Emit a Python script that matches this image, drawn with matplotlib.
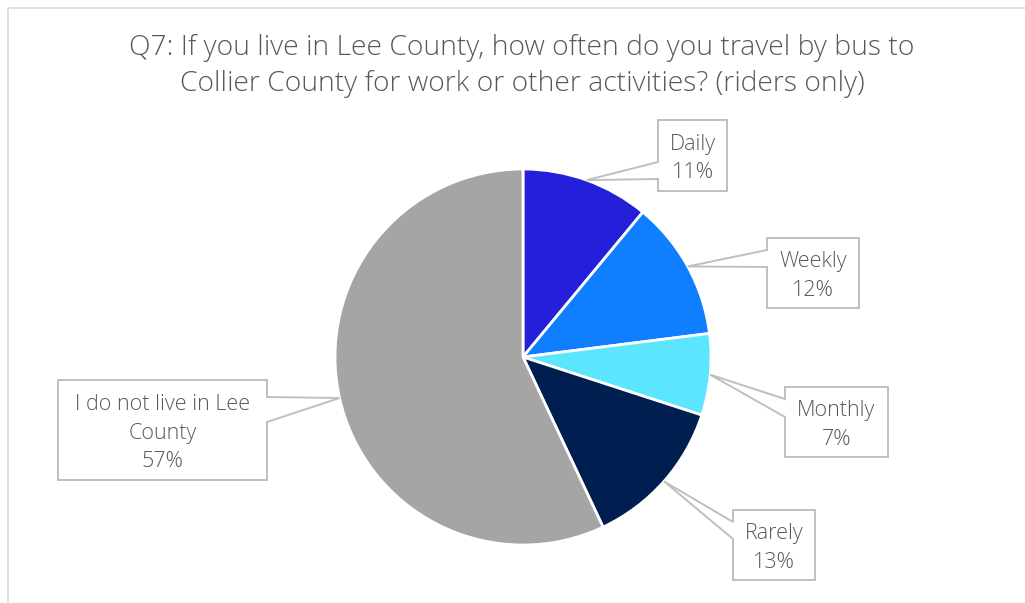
import numpy as np
import matplotlib
matplotlib.use("Agg")
import matplotlib.pyplot as plt
from matplotlib.patches import Polygon

# Survey responses (share of riders, %)
categories = ["Daily", "Weekly", "Monthly", "Rarely", "I do not live in Lee\nCounty"]
values = [11, 12, 7, 13, 57]
colors = ["#2420DA", "#0F7FFF", "#5CE5FF", "#001E50", "#A5A5A5"]
title = ("Q7: If you live in Lee County, how often do you travel by bus to\n"
         "Collier County for work or other activities? (riders only)")

W, H = 1025, 603
fig = plt.figure(figsize=(W / 100, H / 100), dpi=100)
ax = fig.add_axes([0, 0, 1, 1])

FONT = ["Open Sans", "DejaVu Sans"]
TEXT_COLOR = "#595959"
LINE_COLOR = "#BFBFBF"

cx, cy, r = 523, H - 357, 188
wedges, _ = ax.pie(values, colors=colors, startangle=90, counterclock=False,
                   center=(cx, cy), radius=r, frame=True,
                   wedgeprops=dict(edgecolor="white", linewidth=2.0))
ax.set_xlim(0, W)
ax.set_ylim(0, H)
ax.set_aspect("equal")
ax.axis("off")

# chart-area border (top and left edges visible)
ax.plot([7.5, W], [H - 7.5, H - 7.5], color="#D9D9D9", lw=1.2, solid_capstyle="butt")
ax.plot([7.5, 7.5], [0, H - 7.5], color="#D9D9D9", lw=1.2, solid_capstyle="butt")

ax.text(522, H - 66, title, ha="center", va="center", fontsize=20.3,
        color=TEXT_COLOR, family=FONT, fontweight="light", linespacing=1.35)

# callout boxes: (left, top, right, bottom) in pixels from top-left, wedge side
boxes = [
    (658, 120, 727, 191, "left", (162, 179)),
    (767, 238, 859, 308, "left", (250, 267)),
    (785, 387, 888, 457, "left", (399, 417)),
    (733, 510, 815, 580, "left", (522, 539)),
    (58, 380, 267, 480, "right", (397, 422)),
]

for w, cat, val, (l, t, rr, b, side, (y1, y2)) in zip(wedges, categories, values, boxes):
    mid = np.deg2rad((w.theta1 + w.theta2) / 2)
    tip = (cx + r * np.cos(mid), cy + r * np.sin(mid))
    L, R, T, B = l, rr, H - t, H - b
    Y1, Y2 = H - y1, H - y2
    if side == "left":
        pts = [(L, T), (R, T), (R, B), (L, B), (L, Y2), tip, (L, Y1)]
    else:
        pts = [(L, T), (R, T), (R, Y1), tip, (R, Y2), (R, B), (L, B)]
    ax.add_patch(Polygon(pts, closed=True, facecolor="white", edgecolor=LINE_COLOR,
                         linewidth=1.4, zorder=3, joinstyle="miter"))
    ax.text((L + R) / 2, (T + B) / 2 - 3, f"{cat}\n{val}%", ha="center", va="center",
            fontsize=15.5, color=TEXT_COLOR, family=FONT, fontweight="light",
            linespacing=1.45, zorder=4)

fig.savefig("out.png", dpi=100, facecolor="white")
